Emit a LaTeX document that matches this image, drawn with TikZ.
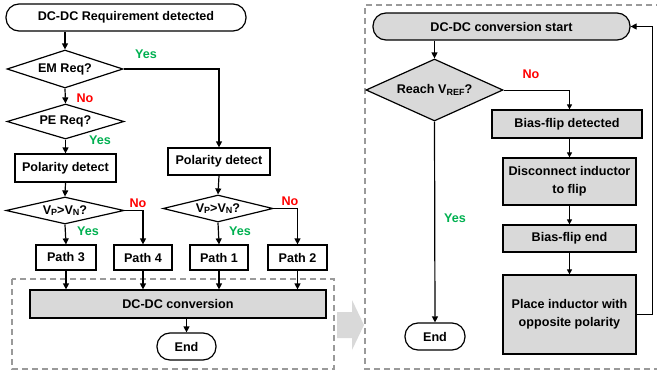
\documentclass[tikz,border=0pt]{standalone}
\usepackage{fontspec}
\setmainfont{Liberation Sans}
\usetikzlibrary{shapes.geometric,arrows.meta}
\definecolor{boxgray}{HTML}{D9D9D9}
\definecolor{yesgreen}{HTML}{00B050}
\definecolor{nored}{HTML}{FF0000}
\definecolor{dashgray}{HTML}{9A9A9A}
\newcommand{\sbs}[1]{\raisebox{-0.2ex}{\fontsize{9}{9}\selectfont #1}}
\begin{document}
\begin{tikzpicture}[x=1pt,y=-1pt,
  every node/.style={font=\fontsize{12.6}{18}\selectfont\bfseries, inner sep=0pt, align=center},
  proc/.style={draw, line width=1.2pt, rectangle, minimum width=#1},
  term/.style={draw, line width=1.2pt, rectangle, rounded corners=13pt, minimum width=#1, minimum height=27pt},
  dec/.style={draw, line width=1.2pt, diamond, aspect=4},
  arr/.style={line width=1.2pt, -{Triangle[length=6pt,width=6pt]}},
  tarr/.style={line width=0.8pt, -{Triangle[length=5pt,width=5pt]}},
  yeslbl/.style={text=yesgreen},
  nolbl/.style={text=nored},
  dbox/.style={draw=dashgray, line width=1.2pt, dash pattern=on 6pt off 4pt}
]
\useasboundingbox (0,0) rectangle (657,375);

% dashed frames
\draw[dbox] (12,279) rectangle (334,369);
\draw[dbox] (662,5) -- (365,5) -- (365,369) -- (662,369);
% big gray arrow
\fill[boxgray] (337,312) -- (352,312) -- (352,300) -- (364,325) -- (352,350) -- (352,338) -- (337,338) -- cycle;

% left flowchart
\node[term=240] (start) at (126,17.5) {DC-DC Requirement detected};
\node[dec, minimum width=116pt, minimum height=38pt] (em) at (65,69) {EM Req?};
\node[dec, minimum width=117pt, minimum height=35pt] (pe) at (65.5,121.5) {PE Req?};
\node[proc=101pt, minimum height=28pt] (pd1) at (65.5,168) {Polarity detect};
\node[proc=102pt, minimum height=27pt] (pd2) at (219,161.5) {Polarity detect};
\node[dec, minimum width=118pt, minimum height=27pt] (vp1) at (65,210.5) {V\sbs{P}>V\sbs{N}?};
\node[dec, minimum width=110pt, minimum height=27pt] (vp2) at (218,208.5) {V\sbs{P}>V\sbs{N}?};
\node[proc=60pt, minimum height=25pt] (p3) at (66,257.5) {Path 3};
\node[proc=58pt, minimum height=25pt] (p4) at (143,257.5) {Path 4};
\node[proc=58pt, minimum height=25pt] (p1) at (219,257.5) {Path 1};
\node[proc=59pt, minimum height=25pt] (p2) at (297.5,257.5) {Path 2};
\node[proc=296pt, minimum height=28pt, fill=boxgray] (conv) at (178,304) {DC-DC conversion};
\node[term=59] (end1) at (186.5,346.5) {End};

\draw[arr] (em.north |- start.south) -- (em.north);
\draw[arr] (em.east) -| (pd2.north);
\draw[arr] (em.south) -- (pe.north);
\draw[arr] (pe.south) -- (pd1.north);
\draw[arr] (pd1.south) -- (vp1.north);
\draw[arr] (pd2.south) -- (vp2.north);
\draw[arr] (vp1.south) -- (p3.north);
\draw[arr] (vp1.east) -| (p4.north);
\draw[arr] (vp2.south) -- (p1.north);
\draw[arr] (vp2.east) -| (p2.north);
\foreach \p in {p1,p2,p3,p4}{
  \draw[arr] (\p.south) -- (\p.south |- conv.north);
}
\draw[arr] (end1.north |- conv.south) -- (end1.north);

\node[yeslbl] (l1) at (146,54) {Yes};
\node[nolbl] (l2) at (85,98) {No};
\node[yeslbl] (l3) at (100,140) {Yes};
\node[nolbl] (l4) at (138,203) {No};
\node[yeslbl] (l5) at (88,231) {Yes};
\node[nolbl] (l6) at (290,201) {No};
\node[yeslbl] (l7) at (240,231) {Yes};

% right flowchart
\node[term=257, fill=boxgray] (rstart) at (501.5,26.5) {DC-DC conversion start};
\node[dec, aspect=3, fill=boxgray, minimum width=137pt, minimum height=62pt] (reach) at (434.5,90) {Reach V\sbs{REF}?};
\node[proc=150pt, minimum height=28pt, fill=boxgray] (bfd) at (567,124) {Bias-flip detected};
\node[proc=133pt, minimum height=47pt, fill=boxgray] (disc) at (569.5,181.5) {Disconnect inductor\\to flip};
\node[proc=133pt, minimum height=27pt, fill=boxgray] (bfe) at (569.5,238.5) {Bias-flip end};
\node[proc=133pt, minimum height=79pt, fill=boxgray] (place) at (569.5,314.5) {Place inductor with\\opposite polarity};
\node[term=60] (end2) at (435,336.5) {End};

\draw[arr] (reach.north |- rstart.south) -- (reach.north);
\draw[tarr] (reach.east) -| (disc.north |- bfd.north);
\draw[tarr] (disc.north |- bfd.south) -- (disc.north);
\draw[tarr] (disc.south) -- (bfe.north);
\draw[tarr] (bfe.south) -- (place.north);
\draw[arr] (reach.south) -- (end2.north);
\draw[arr] (place.east) -- ++(16,0) |- (rstart.east);

\node[nolbl] (l8) at (531,74) {No};
\node[yeslbl] (l9) at (455,218) {Yes};
\end{tikzpicture}
\end{document}
